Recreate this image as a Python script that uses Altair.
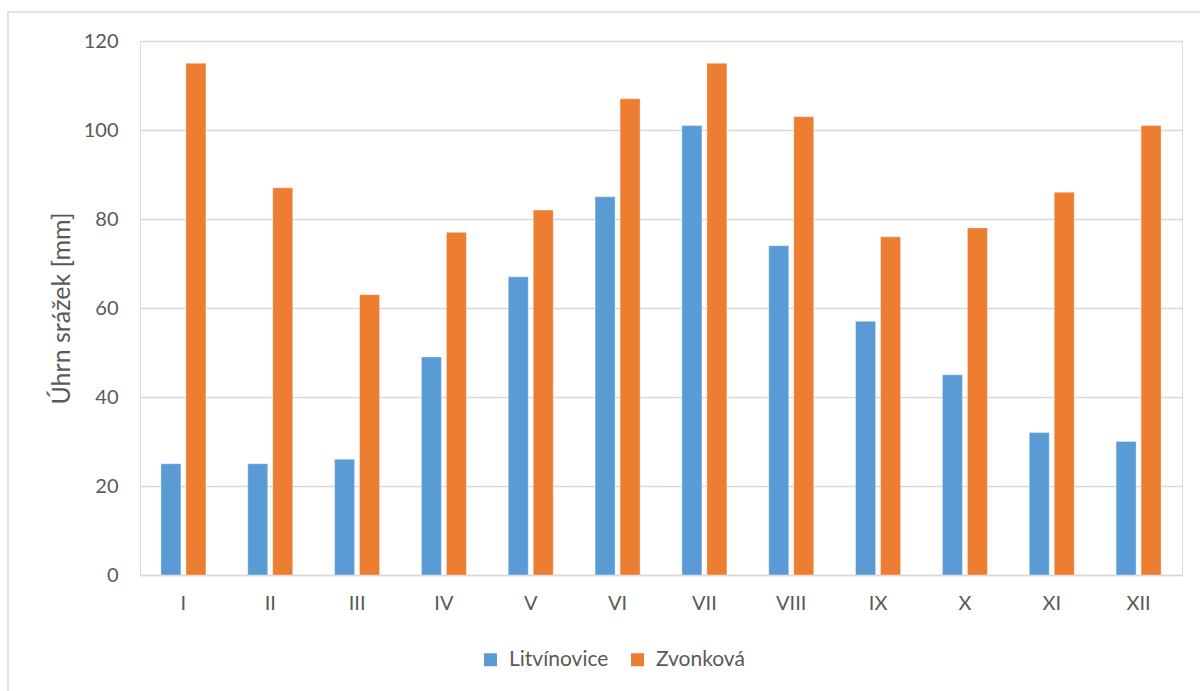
import altair as alt
import pandas as pd

months = ["I", "II", "III", "IV", "V", "VI", "VII", "VIII", "IX", "X", "XI", "XII"]
litvinovice = [25, 25, 26, 49, 67, 85, 101, 74, 57, 45, 32, 30]
zvonkova = [115, 87, 63, 77, 82, 107, 115, 103, 76, 78, 86, 101]
series = ["Litvínovice", "Zvonková"]
colors = ["#5B9BD5", "#ED7D31"]
y_ticks = [0, 20, 40, 60, 80, 100, 120]

rows = []
for m, a, b in zip(months, litvinovice, zvonkova):
    rows.append({"month": m, "station": series[0], "value": a})
    rows.append({"month": m, "station": series[1], "value": b})
df = pd.DataFrame(rows)

FONT = "Lato"
TXT = "#595959"
GRID = "#D9D9D9"

border = alt.Chart(pd.DataFrame({"a": [0]})).mark_rect(
    fillOpacity=0, stroke=GRID, strokeWidth=1.5
).encode(
    x=alt.value(-132), x2=alt.value(1100),
    y=alt.value(-29), y2=alt.value(700),
)

bars = alt.Chart(df).mark_bar(stroke="white", strokeOpacity=0.35, strokeWidth=1).encode(
    x=alt.X("month:N", sort=months, title=None,
            scale=alt.Scale(paddingInner=0.482, paddingOuter=0.241),
            axis=alt.Axis(labelAngle=0, labelFontSize=20, labelColor=TXT, labelFont=FONT,
                          ticks=False, domainColor=GRID, domainWidth=1.5, labelPadding=18,
                          grid=False)),
    xOffset=alt.XOffset("station:N", sort=series,
                        scale=alt.Scale(paddingInner=0.2, paddingOuter=0)),
    y=alt.Y("value:Q", title="Úhrn srážek [mm]",
            scale=alt.Scale(domain=[0, 120], nice=False),
            axis=alt.Axis(values=y_ticks, labelFontSize=20, labelColor=TXT, labelFont=FONT,
                          ticks=False, domain=False, gridColor=GRID, gridWidth=1.5,
                          labelPadding=22, titleFontSize=25, titleColor=TXT, titleFont=FONT,
                          titleFontWeight="normal", titlePadding=9)),
    color=alt.Color("station:N", sort=series,
                    scale=alt.Scale(domain=series, range=colors),
                    legend=alt.Legend(title=None, orient="none", direction="horizontal",
                                      legendX=340, legendY=608, symbolType="square",
                                      symbolSize=169, symbolStrokeWidth=0,
                                      labelFontSize=21, labelColor=TXT, labelFont=FONT,
                                      labelOffset=8, columnPadding=18, padding=0)),
)

chart = alt.layer(border, bars).properties(
    width=1042, height=534,
    autosize=alt.AutoSizeParams(type="none"),
    padding={"left": 140, "top": 41, "right": 18, "bottom": 116},
).configure_view(stroke=None).configure(background="white")

chart.save("out.html", embed_options={"renderer": "svg", "actions": False})
